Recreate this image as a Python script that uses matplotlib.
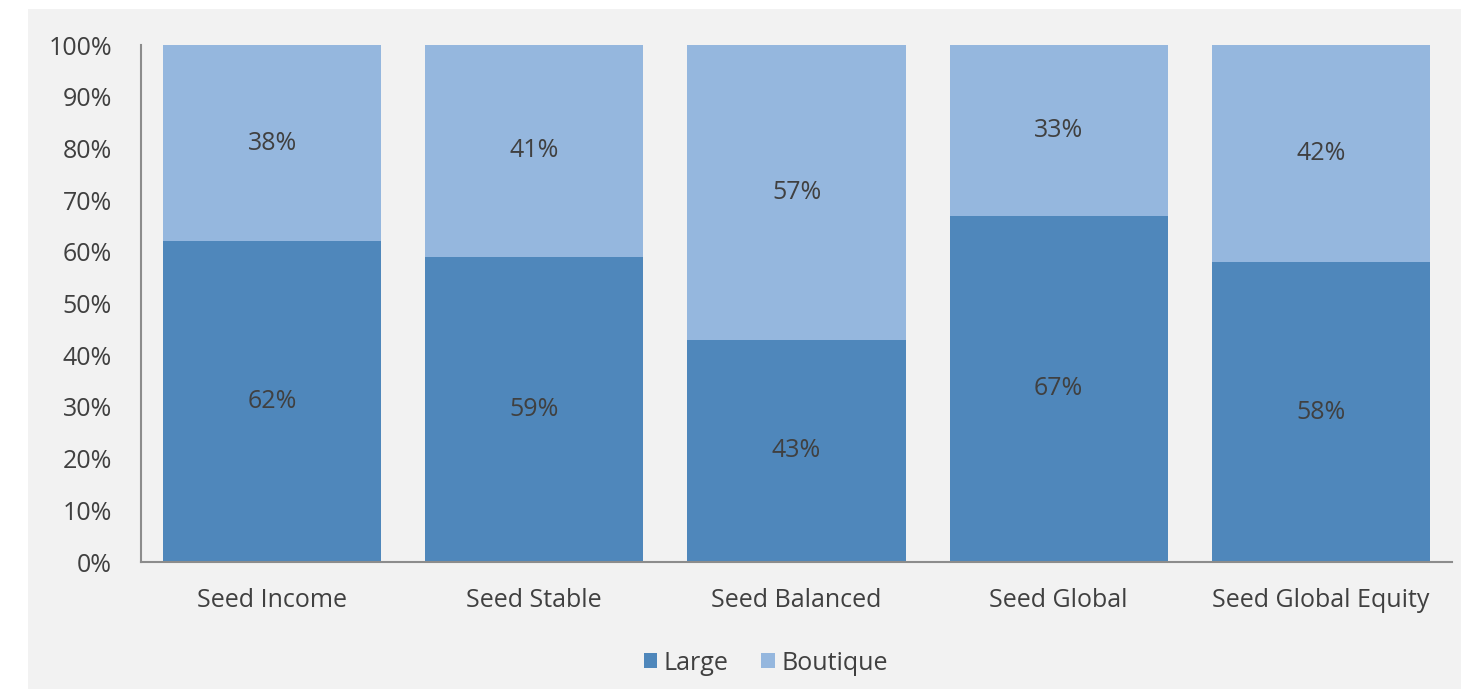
import matplotlib.pyplot as plt
from matplotlib.patches import Rectangle
from matplotlib.ticker import FuncFormatter, MultipleLocator

categories = ["Seed Income", "Seed Stable", "Seed Balanced", "Seed Global", "Seed Global Equity"]
large = [62, 59, 43, 67, 58]
boutique = [38, 41, 57, 33, 42]

LARGE_C = "#4F87BB"
BOUTIQUE_C = "#95B7DE"
TEXT_C = "#404040"
BG = "#F2F2F2"

plt.rcParams["font.family"] = ["Open Sans", "DejaVu Sans"]

fig = plt.figure(figsize=(14.61, 6.91), dpi=100)
fig.patch.set_facecolor("white")
# grey chart area, leaving a thin white margin on left/top as in the screenshot
fig.patches.append(Rectangle((28 / 1461, 0.003), 1 - 28 / 1461, 1 - 9 / 691 - 0.003,
                             transform=fig.transFigure, facecolor=BG, edgecolor="none",
                             zorder=-10))

ax = fig.add_axes([141 / 1461, 1 - 562 / 691, (1452 - 141) / 1461, (562 - 45) / 691])
ax.set_facecolor(BG)

x = range(len(categories))
w = 0.832
ax.bar(x, large, width=w, color=LARGE_C, label="Large")
ax.bar(x, boutique, width=w, bottom=large, color=BOUTIQUE_C, label="Boutique")

for i, (lv, bv) in enumerate(zip(large, boutique)):
    ax.text(i, lv / 2, f"{lv}%", ha="center", va="center", fontsize=18, color=TEXT_C)
    ax.text(i, lv + bv / 2, f"{bv}%", ha="center", va="center", fontsize=18, color=TEXT_C)

ax.set_xlim(-0.5, len(categories) - 0.5)
ax.set_ylim(0, 100)
ax.yaxis.set_major_locator(MultipleLocator(10))
ax.yaxis.set_major_formatter(FuncFormatter(lambda v, _: f"{v:.0f}%"))
ax.set_xticks(list(x))
ax.set_xticklabels(categories)
ax.tick_params(axis="both", length=0, labelsize=18, colors=TEXT_C)
ax.tick_params(axis="y", pad=21)
ax.tick_params(axis="x", pad=19)

for s in ["top", "right"]:
    ax.spines[s].set_visible(False)
for s in ["left", "bottom"]:
    ax.spines[s].set_color("#8C8C8C")
    ax.spines[s].set_linewidth(1.5)

leg = fig.legend(loc="center", bbox_to_anchor=(0.524, 1 - 663 / 691), ncol=2, frameon=False,
                 fontsize=18, handlelength=0.55, handleheight=0.55, handletextpad=0.25,
                 columnspacing=1.3)
for t in leg.get_texts():
    t.set_color(TEXT_C)

fig.savefig("out.png", dpi=100, facecolor=fig.get_facecolor())
